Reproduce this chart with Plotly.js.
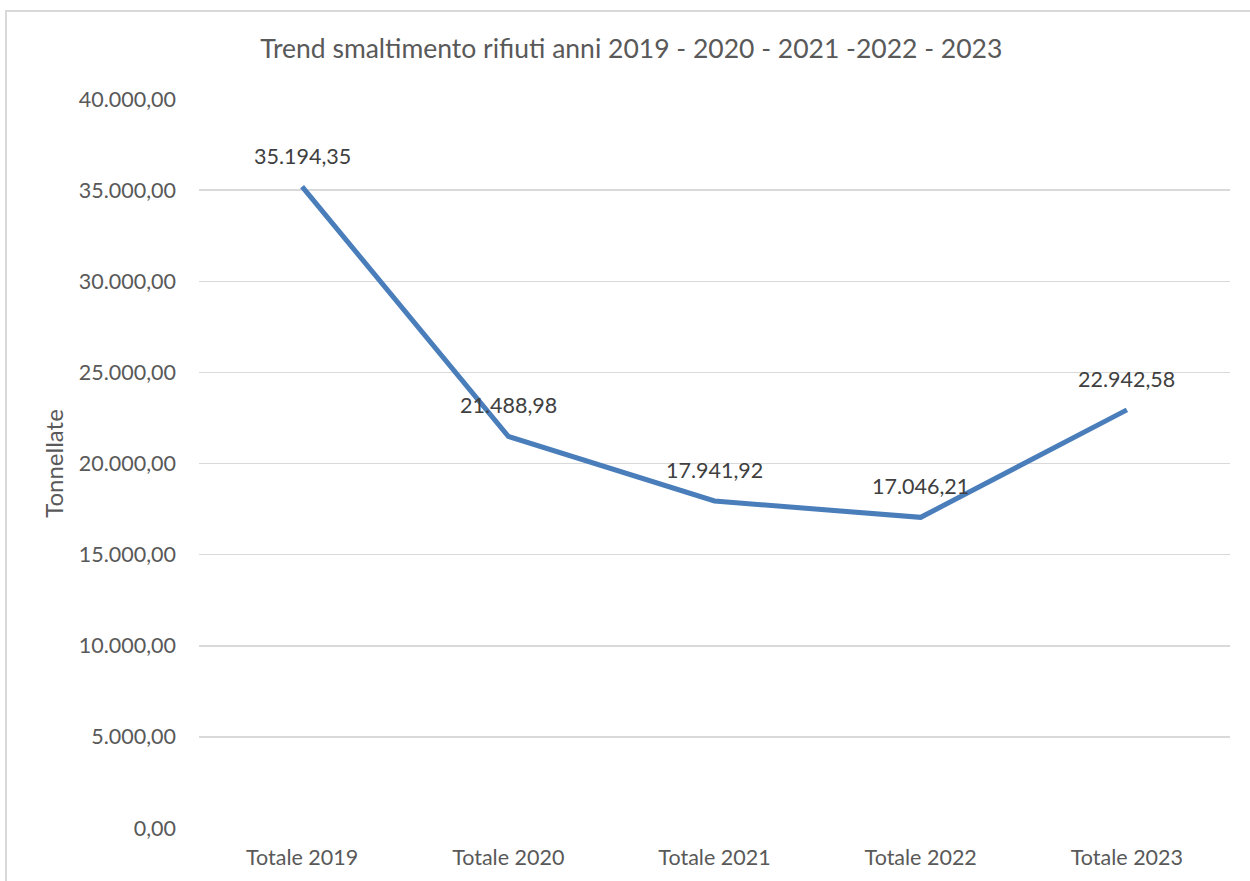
<!DOCTYPE html>
<html>
<head>
<meta charset="utf-8">
<script src="https://cdn.plot.ly/plotly-3.0.1.min.js"></script>
<style>
html,body{margin:0;padding:0;background:#fff;}
#chart{position:absolute;left:0;top:0;width:1250px;height:881px;}
#frame{position:absolute;left:5px;top:10px;width:1300px;height:900px;border-left:2px solid #d9d9d9;border-top:2px solid #d9d9d9;pointer-events:none;}
</style>
</head>
<body>
<div id="chart"></div>
<div id="frame"></div>
<script>
const categories = ["Totale 2019", "Totale 2020", "Totale 2021", "Totale 2022", "Totale 2023"];
const tonnellate = [35194.35, 21488.98, 17941.92, 17046.21, 22942.58];
const yTicks = [0, 5000, 10000, 15000, 20000, 25000, 30000, 35000, 40000];

function fmtIt(v){
  const parts = v.toFixed(2).split(".");
  parts[0] = parts[0].replace(/\B(?=(\d{3})+(?!\d))/g, ".");
  return parts[0] + "," + parts[1];
}

const FONT = "Lato, 'Open Sans', sans-serif";

const trace = {
  x: categories,
  y: tonnellate,
  type: "scatter",
  mode: "lines",
  line: {color: "#4a7ebb", width: 5},
  hoverinfo: "skip"
};

const annotations = categories.map((c, i) => ({
  x: c, y: tonnellate[i], xref: "x", yref: "y",
  text: fmtIt(tonnellate[i]),
  showarrow: false,
  yshift: 31,
  font: {family: FONT, size: 21.5, color: "#404040"}
}));

const layout = {
  width: 1250, height: 881,
  margin: {l: 199, r: 20, t: 99, b: 53},
  paper_bgcolor: "#ffffff",
  plot_bgcolor: "#ffffff",
  separators: ",.",
  showlegend: false,
  title: {
    text: "Trend smaltimento rifiuti anni 2019 - 2020 - 2021 -2022 - 2023",
    font: {family: FONT, size: 26.5, color: "#595959"},
    x: 0.505, xanchor: "center", y: 0.945, yanchor: "middle"
  },
  xaxis: {
    type: "category",
    range: [-0.5, 4.5],
    showgrid: false, zeroline: false, showline: false,
    ticks: "",
    tickfont: {family: FONT, size: 21.5, color: "#595959"},
    ticklabelstandoff: 14
  },
  yaxis: {
    range: [0, 40000],
    tickvals: yTicks,
    tickformat: ",.2f",
    showgrid: true, gridcolor: "#d9d9d9", gridwidth: 1.5,
    zeroline: false, showline: false, ticks: "",
    tickfont: {family: FONT, size: 21.5, color: "#595959"},
    ticklabelstandoff: 22,
    title: {text: "Tonnellate", font: {family: FONT, size: 24, color: "#595959"}, standoff: 8}
  },
  annotations: annotations
};

Plotly.newPlot("chart", [trace], layout, {displayModeBar: false, staticPlot: true});
</script>
</body>
</html>
